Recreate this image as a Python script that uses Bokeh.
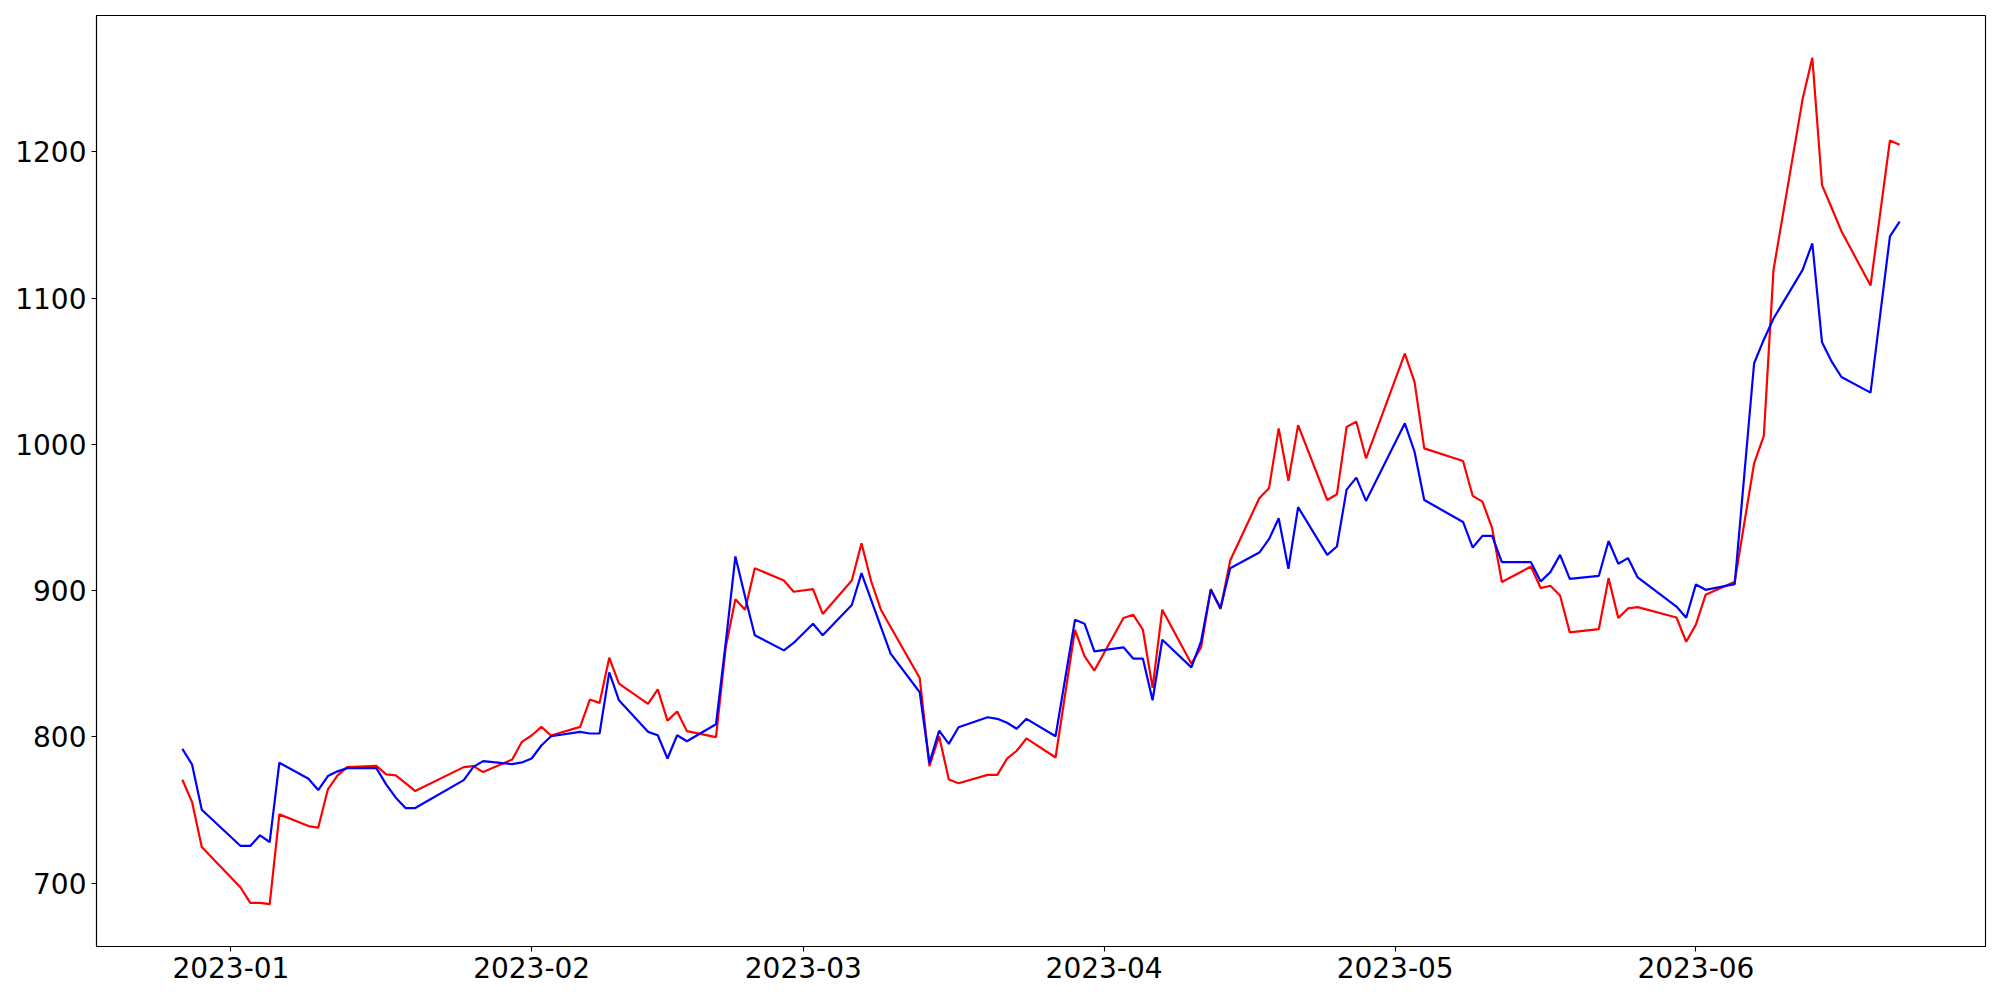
import pandas as pd
from bokeh.plotting import figure
from bokeh.models import Range1d, FixedTicker, DatetimeTickFormatter, ColumnDataSource
from bokeh.embed import file_html
from bokeh.resources import INLINE

dates = [
    "2022-12-27", "2022-12-28", "2022-12-29",
    "2023-01-02", "2023-01-03", "2023-01-04", "2023-01-05", "2023-01-06",
    "2023-01-09", "2023-01-10", "2023-01-11", "2023-01-12", "2023-01-13",
    "2023-01-16", "2023-01-17", "2023-01-18", "2023-01-19", "2023-01-20",
    "2023-01-25", "2023-01-26", "2023-01-27", "2023-01-30", "2023-01-31",
    "2023-02-01", "2023-02-02", "2023-02-03", "2023-02-06", "2023-02-07",
    "2023-02-08", "2023-02-09", "2023-02-10", "2023-02-13", "2023-02-14",
    "2023-02-15", "2023-02-16", "2023-02-17", "2023-02-20", "2023-02-21",
    "2023-02-22", "2023-02-23", "2023-02-24", "2023-02-27", "2023-02-28",
    "2023-03-02", "2023-03-03", "2023-03-06", "2023-03-07", "2023-03-08",
    "2023-03-09", "2023-03-10", "2023-03-13", "2023-03-14", "2023-03-15",
    "2023-03-16", "2023-03-17", "2023-03-20", "2023-03-21", "2023-03-22",
    "2023-03-23", "2023-03-24", "2023-03-27", "2023-03-29", "2023-03-30",
    "2023-03-31", "2023-04-03", "2023-04-04", "2023-04-05", "2023-04-06",
    "2023-04-07", "2023-04-10", "2023-04-11", "2023-04-12", "2023-04-13",
    "2023-04-14", "2023-04-17", "2023-04-18", "2023-04-19", "2023-04-20",
    "2023-04-21", "2023-04-24", "2023-04-25", "2023-04-26", "2023-04-27",
    "2023-04-28", "2023-05-02", "2023-05-03", "2023-05-04", "2023-05-08",
    "2023-05-09", "2023-05-10", "2023-05-11", "2023-05-12", "2023-05-15",
    "2023-05-16", "2023-05-17", "2023-05-18", "2023-05-19", "2023-05-22",
    "2023-05-23", "2023-05-24", "2023-05-25", "2023-05-26", "2023-05-30",
    "2023-05-31", "2023-06-01", "2023-06-02", "2023-06-05", "2023-06-07",
    "2023-06-08", "2023-06-09", "2023-06-12", "2023-06-13", "2023-06-14",
    "2023-06-15", "2023-06-16", "2023-06-19", "2023-06-21", "2023-06-22",
]

red_values = [
    770.7, 755.4, 724.7,
    697.0, 686.5, 686.5, 685.6, 747.0,
    739.0, 737.9, 764.1, 773.6, 779.3,
    780.2, 774.3, 773.6, 768.4, 762.9,
    779.3, 780.0, 775.9, 784.5, 796.6,
    800.9, 806.8, 800.9, 806.8, 825.5,
    823.2, 854.1, 836.4, 822.5, 832.5,
    811.1, 817.3, 803.9, 799.8, 861.0,
    894.0, 886.9, 915.3, 906.9, 899.2,
    901.0, 884.0, 906.9, 932.4, 906.2,
    886.9, 875.1, 840.2, 780.0, 800.4,
    770.9, 768.3, 774.0, 774.0, 785.1,
    790.5, 798.9, 785.9, 873.2, 855.0,
    845.3, 881.2, 883.5, 873.2, 833.5,
    886.9, 850.0, 861.2, 901.0, 887.4,
    920.5, 963.1, 969.9, 1010.9, 975.1,
    1013.1, 961.9, 965.8, 1011.9, 1015.4,
    990.4, 1062.0, 1042.7, 997.2, 988.6,
    964.7, 960.8, 942.6, 905.8, 916.4,
    901.7, 903.3, 896.6, 871.4, 873.7,
    908.5, 881.2, 887.8, 888.7, 881.6,
    865.0, 876.7, 897.1, 906.0, 987.0,
    1005.7, 1119.2, 1236.0, 1264.2, 1177.2,
    1161.5, 1145.7, 1108.5, 1207.7, 1204.8,
]

blue_values = [
    791.8, 781.1, 750.2,
    725.4, 725.4, 732.7, 728.1, 782.3,
    771.4, 763.6, 773.2, 776.4, 778.6,
    778.6, 767.5, 758.4, 751.3, 751.3,
    770.4, 779.5, 783.4, 781.3, 782.5,
    785.2, 794.1, 800.4, 803.4, 802.3,
    802.3, 844.1, 825.0, 803.4, 801.1,
    785.2, 801.1, 797.0, 808.6, 864.0,
    923.3, 895.8, 869.4, 859.1, 864.2,
    877.3, 869.4, 890.1, 911.9, 893.5,
    875.1, 856.9, 830.5, 782.3, 804.2,
    795.2, 806.6, 813.4, 812.3, 809.6,
    805.5, 812.3, 800.4, 880.0, 877.3,
    858.4, 861.2, 853.5, 853.5, 825.0,
    866.4, 847.5, 865.3, 900.5, 888.0,
    915.3, 926.0, 935.1, 949.4, 914.9,
    957.0, 924.4, 930.1, 969.0, 977.2,
    961.3, 1014.3, 994.9, 961.9, 946.9,
    929.4, 937.4, 937.4, 919.4, 919.4,
    906.2, 912.6, 924.4, 908.0, 910.1,
    933.9, 918.3, 922.2, 909.0, 889.1,
    881.4, 904.2, 900.5, 904.4, 1055.4,
    1071.5, 1086.0, 1119.2, 1137.4, 1069.7,
    1056.5, 1046.0, 1035.3, 1142.1, 1152.2,
]

y_ticks = [700, 800, 900, 1000, 1100, 1200]
x_tick_months = ["2023-01-01", "2023-02-01", "2023-03-01",
                 "2023-04-01", "2023-05-01", "2023-06-01"]

x = pd.to_datetime(dates)
src = ColumnDataSource(dict(x=x, red=red_values, blue=blue_values))

# matplotlib-like 5% margins
xms = x.astype("int64") // 10**6
xmin, xmax = float(xms.min()), float(xms.max())
xspan = xmax - xmin
allv = red_values + blue_values
ymin, ymax = min(allv), max(allv)
yspan = ymax - ymin

p = figure(
    width=1992, height=992,
    x_axis_type="datetime",
    x_range=Range1d(xmin - 0.05 * xspan, xmax + 0.05 * xspan),
    y_range=Range1d(ymin - 0.05 * yspan, ymax + 0.05 * yspan),
    output_backend="svg", toolbar_location=None,
    min_border_left=96, min_border_right=7,
    min_border_top=15, min_border_bottom=46,
)
p.background_fill_color = "white"
p.border_fill_color = "white"
p.grid.visible = False
p.outline_line_color = "black"
p.outline_line_width = 1.1
p.outline_line_alpha = 1.0

tick_ms = [float(v) for v in (pd.to_datetime(x_tick_months).astype("int64") // 10**6)]
p.xaxis.ticker = FixedTicker(ticks=tick_ms)
p.xaxis.formatter = DatetimeTickFormatter(days="%Y-%m", months="%Y-%m", years="%Y-%m")
p.yaxis.ticker = FixedTicker(ticks=y_ticks)

for ax in (p.xaxis, p.yaxis):
    ax.axis_line_color = "black"
    ax.axis_line_width = 1.1
    ax.major_tick_line_color = "black"
    ax.major_tick_line_width = 1.1
    ax.major_tick_out = 5
    ax.major_tick_in = 0
    ax.minor_tick_line_color = None
    ax.major_label_text_font = "DejaVu Sans"
    ax.major_label_text_font_size = "28px"
    ax.major_label_text_color = "black"
    ax.major_label_standoff = 5

p.line("x", "red", source=src, line_color="#ff0000", line_width=2.2)
p.line("x", "blue", source=src, line_color="#0000ff", line_width=2.2)

open("out.html", "w").write(file_html(p, INLINE))
